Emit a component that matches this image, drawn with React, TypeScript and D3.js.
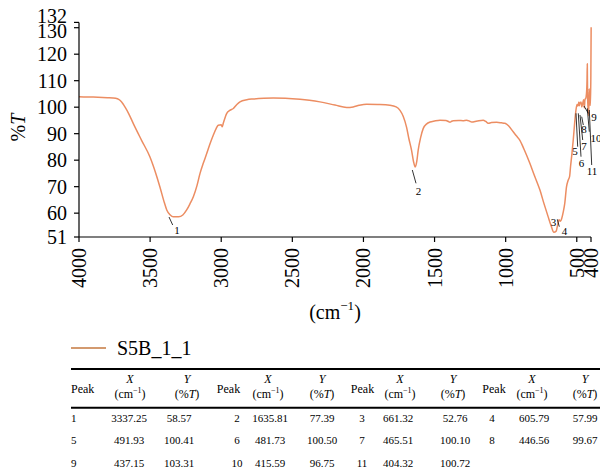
import React from 'react';
import * as d3 from 'd3';

// Spectrum S5B_1_1 (wavenumber cm^-1, %T)
const wavenumbers = [
  4000, 3900, 3800, 3761, 3730, 3712, 3690, 3677, 3650, 3618, 3560, 3501, 3460, 3431, 3400, 3383, 3360, 3337, 3300, 3270,
  3243, 3220, 3196, 3170, 3149, 3125, 3102, 3080, 3056, 3035, 3021, 3000, 2993, 2985, 2962, 2940, 2915, 2890, 2868, 2820,
  2775, 2700, 2634, 2550, 2446, 2380, 2306, 2200, 2118, 2072, 2030, 1978, 1900, 1814, 1770, 1743, 1720, 1697, 1680, 1662,
  1648, 1636, 1625, 1615, 1598, 1580, 1555, 1532, 1500, 1462, 1420, 1400, 1392, 1380, 1369, 1330, 1300, 1275, 1250, 1240,
  1200, 1158, 1140, 1123, 1100, 1064, 1030, 1005, 980, 947, 925, 900, 870, 830, 800, 759, 730, 701, 680, 661,
  645, 635, 625, 615, 606, 595, 585, 572, 560, 550, 544, 535, 525, 515, 506, 498, 492, 485, 482, 478,
  470, 465, 458, 452, 447, 442, 437, 432, 428, 426, 424, 420, 416, 413, 410, 407, 404, 401, 399,
];
const transmittance = [
  103.9, 103.8, 103.6, 103.5, 103.2, 102.6, 101.2, 100.1, 97.5, 93.8, 87.5, 81.2, 75, 69.9, 64, 61.2, 59.4, 58.6, 58.6, 59.3,
  61.2, 63.5, 66.2, 70.5, 75, 79, 82.5, 86, 89.4, 92, 93.2, 93.4, 92.6, 94, 97.6, 98.8, 99.5, 101, 102, 102.8,
  103.1, 103.4, 103.5, 103.4, 103, 102.6, 102.0, 100.8, 99.9, 100.1, 100.7, 101.1, 101, 100.7, 100.1, 98.8, 96.5, 92.5, 88, 83.8,
  79.5, 77.4, 79.5, 83.8, 88.5, 91.9, 93.7, 94.4, 94.8, 95.1, 95, 94.5, 94.3, 94.7, 94.9, 95, 94.9, 95.1, 94.6, 94.4,
  94.8, 95.1, 94.6, 93.9, 94.2, 94.3, 94.1, 93.9, 93, 90.7, 89.2, 87.5, 84, 78.8, 74.5, 68.7, 63.5, 58.6, 55.2, 52.8,
  53.2, 55.5, 57.5, 56.9, 58.0, 60.5, 63.5, 70, 72.5, 74, 77.5, 82, 87.5, 94, 98.8, 101, 100.4, 102, 100.5, 101.5,
  102, 100.1, 101.5, 102.8, 99.7, 103, 103.3, 105, 110, 116.4, 104, 99, 96.8, 107, 103, 101, 100.7, 112, 130.2,
];

const yTicks = [51, 60, 70, 80, 90, 100, 110, 120, 130, 132];
const xTicks = [4000, 3500, 3000, 2500, 2000, 1500, 1000, 500, 400];

// Peak table
const peakIds = [1, 2, 3, 4, 5, 6, 7, 8, 9, 10, 11];
const peakX = [3337.25, 1635.81, 661.32, 605.79, 491.93, 481.73, 465.51, 446.56, 437.15, 415.59, 404.32];
const peakY = [58.57, 77.39, 52.76, 57.99, 100.41, 100.5, 100.1, 99.67, 103.31, 96.75, 100.72];
const peakXText = ['3337.25', '1635.81', '661.32', '605.79', '491.93', '481.73', '465.51', '446.56', '437.15', '415.59', '404.32'];
const peakYText = ['58.57', '77.39', '52.76', '57.99', '100.41', '100.50', '100.10', '99.67', '103.31', '96.75', '100.72'];

const seriesName = 'S5B_1_1';

// Label layout (absolute label/leader placement, pixel)
const peakLabelLayout: { sx: number; sy: number; ex: number; ey: number; tx: number; ty: number; leader: boolean }[] = [
  { sx: 169, sy: 217, ex: 172.7, ey: 225, tx: 177, ty: 234, leader: true },
  { sx: 412.3, sy: 170, ex: 416, ey: 183.3, tx: 418.5, ty: 195, leader: true },
  { sx: 0, sy: 0, ex: 0, ey: 0, tx: 553.5, ty: 226, leader: false },
  { sx: 557.3, sy: 219.3, ex: 559.3, ey: 226.7, tx: 564.5, ty: 234.5, leader: true },
  { sx: 576, sy: 113.3, ex: 577.7, ey: 146.7, tx: 575, ty: 155, leader: true },
  { sx: 578.3, sy: 113.3, ex: 581, ey: 156.7, tx: 581.5, ty: 166.5, leader: true },
  { sx: 580, sy: 115, ex: 582.7, ey: 140, tx: 584, ty: 149.5, leader: true },
  { sx: 581.7, sy: 116.7, ex: 583.3, ey: 125, tx: 584, ty: 133, leader: true },
  { sx: 584, sy: 106, ex: 588.3, ey: 113.3, tx: 594, ty: 121, leader: true },
  { sx: 587.3, sy: 108.3, ex: 589.3, ey: 131.7, tx: 596, ty: 141.5, leader: true },
  { sx: 589.3, sy: 110, ex: 591.7, ey: 165, tx: 592, ty: 175, leader: true },
];

const FONT = '"Liberation Serif", "Times New Roman", serif';

export default function App() {
  const x = d3.scaleLinear().domain([4000, 400]).range([79, 591]);
  const y = d3.scaleLinear().domain([51, 132]).range([237, 22.4]);

  const pts = wavenumbers.map((w, i) => [w, transmittance[i]] as [number, number]);
  const line = d3
    .line<[number, number]>()
    .x((d) => x(d[0]))
    .y((d) => y(d[1]))
    .curve(d3.curveMonotoneX);

  const yLabelShift = (t: number) => (t === 132 ? -6 : t === 130 ? 3 : 0);

  // table layout
  const groupPeakX = [71, 237, 362, 492];
  const groupPeakHeadX = [71, 228.5, 362.5, 494];
  const groupXX = [129, 270, 398, 534];
  const groupXHeadX = [130, 268, 400, 532];
  const groupYX = [179, 322, 455, 585];
  const groupYHeadX = [187, 322, 453, 585];
  const rowBase = [421.5, 444, 466.5];
  const tableFont = 11;

  return (
    <svg
      width={600}
      height={475}
      style={{ position: 'absolute', left: 0, top: 0, background: '#fff' }}
      fontFamily={FONT}
    >
      <rect x={0} y={0} width={600} height={475} fill="#fff" />
      {/* curve */}
      <path d={line(pts) || ''} fill="none" stroke="#ec8d62" strokeWidth={1.5} strokeLinejoin="round" />

      {/* axes */}
      <line x1={79} x2={79} y1={y(132)} y2={237} stroke="#000" strokeWidth={1.2} />
      <line x1={79} x2={591} y1={237} y2={237} stroke="#000" strokeWidth={1.2} />
      {yTicks.map((t) => (
        <g key={'y' + t}>
          <line x1={74} x2={79} y1={y(t)} y2={y(t)} stroke="#000" strokeWidth={1.2} />
          <text x={67} y={y(t) + yLabelShift(t)} dy="0.35em" textAnchor="end" fontSize={20}>
            {t}
          </text>
        </g>
      ))}
      {xTicks.map((t) => (
        <g key={'x' + t}>
          <line x1={x(t)} x2={x(t)} y1={237} y2={242} stroke="#000" strokeWidth={1.2} />
          <text
            transform={`translate(${x(t)},248) rotate(-90)`}
            dy="0.35em"
            textAnchor="end"
            fontSize={20}
          >
            {t}
          </text>
        </g>
      ))}
      {/* y axis title */}
      <text transform="translate(17.5,127.5) rotate(-90)" dy="0.35em" textAnchor="middle" fontSize={20}>
        %<tspan fontStyle="italic">T</tspan>
      </text>
      {/* x axis title */}
      <text x={335} y={319} textAnchor="middle" fontSize={20}>
        (cm
        <tspan fontSize={13} dy={-9}>
          −1
        </tspan>
        <tspan dy={9}>)</tspan>
      </text>

      {/* peak labels */}
      {peakIds.map((id, i) => {
        const L = peakLabelLayout[i];
        return (
          <g key={'p' + id}>
            {L.leader && <line x1={L.sx} y1={L.sy} x2={L.ex} y2={L.ey} stroke="#000" strokeWidth={0.8} />}
            <text x={L.tx} y={L.ty} textAnchor="middle" fontSize={11}>
              {id}
            </text>
          </g>
        );
      })}

      {/* legend */}
      <line x1={71} x2={106} y1={348} y2={348} stroke="#d39a6f" strokeWidth={2} />
      <text x={117} y={354.5} fontSize={20}>
        {seriesName}
      </text>

      {/* table */}
      <line x1={71} x2={600} y1={369} y2={369} stroke="#000" strokeWidth={2} />
      <line x1={71} x2={600} y1={407.7} y2={407.7} stroke="#000" strokeWidth={2} />
      {groupPeakX.map((gx, g) => (
        <g key={'h' + g}>
          <text x={groupPeakHeadX[g]} y={392.5} textAnchor={g === 0 ? 'start' : 'middle'} fontSize={12}>
            Peak
          </text>
          <text x={groupXHeadX[g]} y={382.5} textAnchor="middle" fontSize={12} fontStyle="italic">
            X
          </text>
          <text x={groupXHeadX[g]} y={397.5} textAnchor="middle" fontSize={12}>
            (cm
            <tspan fontSize={8} dy={-5}>
              −1
            </tspan>
            <tspan dy={5}>)</tspan>
          </text>
          <text x={groupYHeadX[g]} y={382.5} textAnchor="middle" fontSize={12} fontStyle="italic">
            Y
          </text>
          <text x={groupYHeadX[g]} y={397.5} textAnchor="middle" fontSize={12}>
            (%<tspan fontStyle="italic">T</tspan>)
          </text>
        </g>
      ))}
      {peakIds.map((id, i) => {
        const g = i % 4;
        const r = Math.floor(i / 4);
        return (
          <g key={'r' + id}>
            <text x={groupPeakX[g]} y={rowBase[r]} textAnchor={g === 0 ? 'start' : 'middle'} fontSize={tableFont}>
              {id}
            </text>
            <text x={groupXX[g]} y={rowBase[r]} textAnchor="middle" fontSize={tableFont}>
              {peakXText[i]}
            </text>
            <text x={groupYX[g]} y={rowBase[r]} textAnchor="middle" fontSize={tableFont}>
              {peakYText[i]}
            </text>
          </g>
        );
      })}
    </svg>
  );
}
